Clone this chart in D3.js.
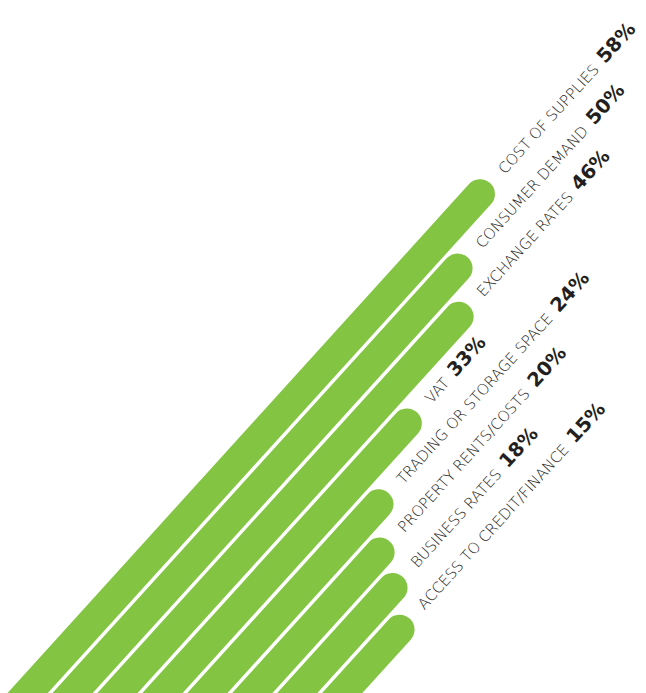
<!DOCTYPE html>
<html>
<head>
<meta charset="utf-8">
<script src="https://cdn.jsdelivr.net/npm/d3@7"></script>
<style>
  html, body { margin: 0; padding: 0; background: #ffffff; }
  svg { display: block; }
</style>
</head>
<body>
<svg id="chart" width="646" height="693"></svg>
<script>
// Concerns reported by businesses, share of respondents (%)
const categories = [
  "COST OF SUPPLIES",
  "CONSUMER DEMAND",
  "EXCHANGE RATES",
  "VAT",
  "TRADING OR STORAGE SPACE",
  "PROPERTY RENTS/COSTS",
  "BUSINESS RATES",
  "ACCESS TO CREDIT/FINANCE"
];
const values = [58, 50, 46, 33, 24, 20, 18, 15];
const valueLabels = values.map(v => v + "%");

const width = 646, height = 693;
const angle = 47.8;          // bars rise up and to the right at this angle
const barThickness = 29.8;
const r = barThickness / 2;
const barColor = "#83c443";

const svg = d3.select("#chart");

// Everything is laid out in a rotated frame: x runs along the bars, y across them.
const g = svg.append("g").attr("transform", `rotate(${-angle})`);

// Across-bar position of each category
const y = d3.scalePoint()
  .domain(categories)
  .range([486, 719]);

// Along-bar position of the rounded end for a given value
const x = d3.scaleLinear()
  .domain([0, 60])
  .range([-329.4, 196.2]);

// Bars start from a common line well below the visible area
const barStart = -1000;

const data = categories.map((c, i) => ({ category: c, value: values[i], label: valueLabels[i] }));

g.selectAll("rect.bar")
  .data(data)
  .join("rect")
  .attr("class", "bar")
  .attr("x", barStart)
  .attr("y", d => y(d.category) - r)
  .attr("width", d => x(d.value) + r - barStart)
  .attr("height", barThickness)
  .attr("rx", r)
  .attr("ry", r)
  .attr("fill", barColor);

const labels = g.selectAll("text.label")
  .data(data)
  .join("text")
  .attr("class", "label")
  .attr("x", d => x(d.value) + r + 16)
  .attr("y", d => y(d.category) + 5.5);

labels.append("tspan")
  .attr("font-family", "'DejaVu Sans', sans-serif")
  .attr("font-weight", 200)
  .attr("font-size", 15)
  .attr("fill", "#1e1e1e")
  .text(d => d.category);

labels.append("tspan")
  .attr("dx", 8)
  .attr("font-family", "'DejaVu Sans', sans-serif")
  .attr("font-weight", 700)
  .attr("font-size", 19.5)
  .attr("fill", "#231f20")
  .text(d => d.label);
</script>
</body>
</html>
